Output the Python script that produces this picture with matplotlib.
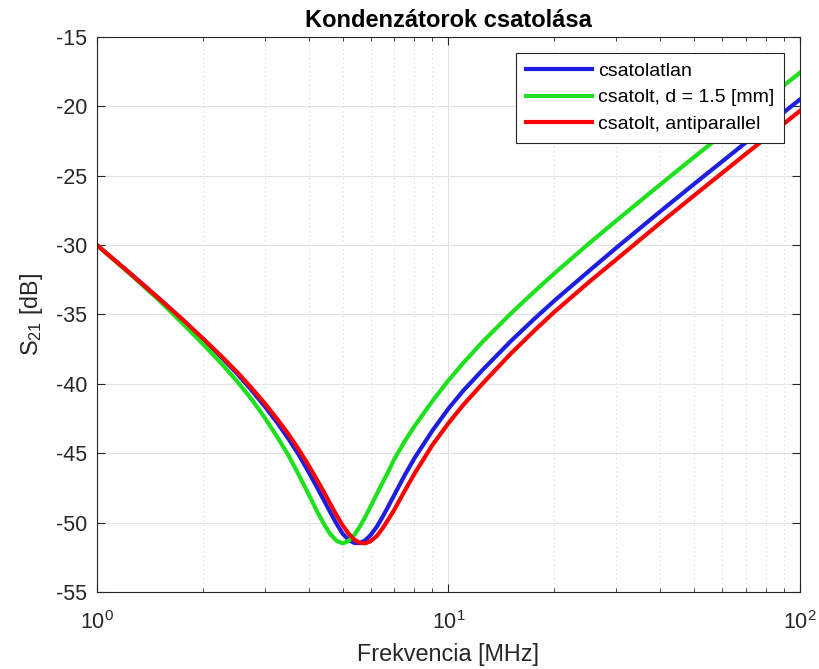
import numpy as np
import matplotlib.pyplot as plt
from matplotlib.ticker import LogLocator, MultipleLocator

plt.rcParams['font.family'] = ['Liberation Sans', 'DejaVu Sans']
plt.rcParams['axes.unicode_minus'] = False
plt.rcParams['mathtext.fontset'] = 'custom'
plt.rcParams['mathtext.rm'] = 'Liberation Sans'

# frekvencia [MHz]
freq = [1, 1.25, 1.5, 1.75, 2, 2.25, 2.5, 2.75, 3, 3.25, 3.5, 3.75, 4, 4.2,
        4.4, 4.6, 4.8, 5, 5.2, 5.4, 5.6, 5.8, 6, 6.25, 6.5, 6.75, 7, 7.5, 8,
        9, 10, 11, 12.5, 15, 17.5, 20, 25, 30, 40, 50, 60, 70, 80, 90, 100]

# S21 [dB]
s21_csatolatlan = [-30.0, -32.08, -33.83, -35.37, -36.76, -38.03, -39.24,
                   -40.44, -41.61, -42.77, -43.93, -45.11, -46.35, -47.33,
                   -48.29, -49.2, -50.07, -50.8, -51.24, -51.47, -51.47,
                   -51.27, -50.91, -50.3, -49.57, -48.8, -48.04, -46.6,
                   -45.36, -43.37, -41.78, -40.51, -39.0, -36.95, -35.34,
                   -34.01, -31.9, -30.2, -27.58, -25.59, -23.98, -22.62,
                   -21.45, -20.42, -19.5]
s21_csatolt = [-30.0, -32.14, -33.96, -35.63, -37.12, -38.48, -39.8, -41.09,
               -42.43, -43.79, -45.12, -46.56, -47.95, -49.05, -50.0, -50.8,
               -51.3, -51.5, -51.31, -50.88, -50.27, -49.58, -48.85, -47.95,
               -47.1, -46.3, -45.46, -44.15, -43.06, -41.24, -39.75, -38.51,
               -36.97, -34.96, -33.37, -32.04, -29.92, -28.24, -25.64,
               -23.65, -22.05, -20.69, -19.52, -18.49, -17.57]
s21_antiparallel = [-30.0, -32.1, -33.85, -35.35, -36.72, -37.96, -39.13,
                    -40.28, -41.4, -42.51, -43.6, -44.73, -45.87, -46.8,
                    -47.7, -48.6, -49.45, -50.2, -50.8, -51.24, -51.46,
                    -51.49, -51.34, -50.97, -50.4, -49.75, -49.1, -47.73,
                    -46.48, -44.41, -42.83, -41.54, -39.98, -37.85, -36.19,
                    -34.82, -32.7, -31.04, -28.41, -26.42, -24.81, -23.44,
                    -22.28, -21.25, -20.32]

fig = plt.figure(figsize=(8.19, 6.69), dpi=100)
ax = fig.add_axes([0.1184, 0.1151, 0.8584, 0.8296])

ax.semilogx(freq, s21_csatolatlan, color='#1e1ee0', lw=3, label='csatolatlan')
ax.semilogx(freq, s21_csatolt, color='#1ee11e', lw=3,
            label='csatolt, d = 1.5 [mm]')
ax.semilogx(freq, s21_antiparallel, color='#ff0000', lw=3,
            label='csatolt, antiparallel')

ax.set_xlim(1, 100)
ax.set_ylim(-55, -15)
ax.yaxis.set_major_locator(MultipleLocator(5))
ax.xaxis.set_major_locator(LogLocator(base=10))
ax.xaxis.set_minor_locator(LogLocator(base=10, subs=np.arange(2, 10)))

# MATLAB-szerű rács
ax.grid(True, which='major', color='#e3e3e3', lw=0.8)
ax.grid(True, which='minor', axis='x', color='#d6d6d6', lw=0.8,
        linestyle=(0, (1, 3)))
ax.set_axisbelow(True)

ax.tick_params(which='both', direction='in', top=True, right=True,
               colors='#262626', labelsize=15.5)
ax.tick_params(which='major', length=6)
ax.tick_params(which='minor', length=3)
ax.tick_params(axis='x', pad=14)
ax.tick_params(axis='y', pad=7)
for s in ax.spines.values():
    s.set_color('#262626')
    s.set_linewidth(0.8)

ax.set_title('Kondenzátorok csatolása', fontsize=17, fontweight='bold',
             pad=7)
ax.set_xlabel('Frekvencia [MHz]', fontsize=16.8, color='#262626', labelpad=6)
ax.set_ylabel('S$_{21}$ [dB]', fontsize=16.8, color='#262626', labelpad=8)

leg = ax.legend(loc='upper right', fontsize=14, frameon=True, fancybox=False,
                edgecolor='#262626', framealpha=1, borderaxespad=0.8,
                handlelength=3.4, handletextpad=0.3, labelspacing=0.44,
                borderpad=0.52)
leg.get_frame().set_linewidth(0.8)

fig.savefig('out.png', dpi=100)
